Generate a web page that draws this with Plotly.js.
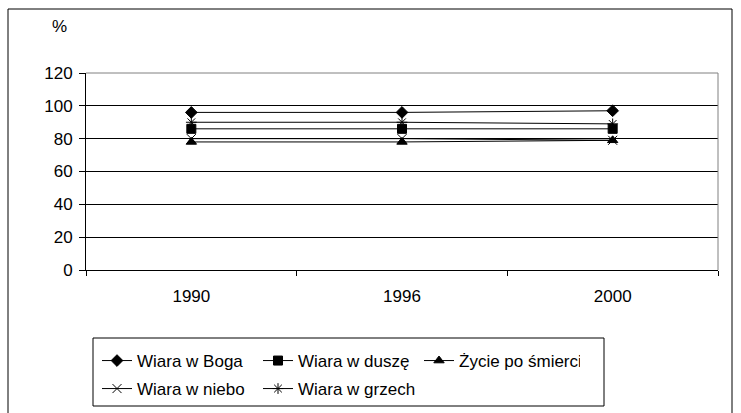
<!DOCTYPE html>
<html>
<head>
<meta charset="utf-8">
<script src="https://cdn.plot.ly/plotly-3.0.1.min.js"></script>
<style>html,body{margin:0;padding:0;background:#fff}#chart{width:741px;height:413px}</style>
</head>
<body>
<div id="chart"></div>
<script>
const years = ["1990", "1996", "2000"];
const seriesNames = ["Wiara w Boga", "Wiara w duszę", "Życie po śmierci", "Wiara w niebo", "Wiara w grzech"];
const boga = [96, 96, 97];
const dusza = [86, 86, 86];
const zycie = [78, 78, 79];
const niebo = [80, 80, 79];
const grzech = [90, 90, 89];
const yTicks = [0, 20, 40, 60, 80, 100, 120];

const values = [boga, dusza, zycie, niebo, grzech];
const symbols = ["diamond", "square", "triangle-up", "x-thin-open", "asterisk-open"];
const sizes = [9, 9, 9, 9, 9];
const legendOf = ["legend", "legend", "legend", "legend2", "legend2"];

const traces = values.map((v, i) => ({
  type: "scatter",
  mode: "lines+markers",
  name: seriesNames[i],
  legend: legendOf[i],
  x: years,
  y: v,
  line: {color: "#000", width: 1},
  marker: {symbol: symbols[i], size: sizes[i], color: "#000", line: {color: "#000", width: 1}}
}));

const W = 741, H = 413;
const L = 86, R = 718, T = 73, B = 270;
const pw = R - L, ph = B - T;
const px = x => (x - L) / pw;
const py = y => (B - y) / ph;
const FS = 17;

const legendBase = {
  orientation: "h", xanchor: "left", yanchor: "middle", xref: "container", yref: "container",
  borderwidth: 0, bgcolor: "rgba(0,0,0,0)",
  font: {size: FS}, entrywidth: 116, entrywidthmode: "pixels", traceorder: "normal"
};

const layout = {
  width: W, height: H,
  margin: {l: L, r: W - R, t: T, b: H - B, pad: 0, autoexpand: false},
  paper_bgcolor: "#fff", plot_bgcolor: "#fff",
  font: {family: "Liberation Sans, Arial, sans-serif", size: FS, color: "#000"},
  showlegend: true,
  xaxis: {
    type: "category", range: [-0.5, 2.5], tickson: "boundaries", ticks: "outside", ticklen: 5, tickcolor: "#000",
    showline: true, linecolor: "#000", linewidth: 1, showgrid: false, zeroline: false,
    tickfont: {size: FS}, ticklabelstandoff: 11
  },
  yaxis: {
    range: [0, 120], tickvals: yTicks, ticks: "outside", ticklen: 6, tickcolor: "#000",
    showline: true, linecolor: "#000", linewidth: 1, showgrid: true, gridcolor: "#000", gridwidth: 1,
    zeroline: false, tickfont: {size: FS}, ticklabelstandoff: 3, fixedrange: true
  },
  legend: Object.assign({}, legendBase, {x: 97 / W, y: 1 - 361 / H}),
  legend2: Object.assign({}, legendBase, {x: 97 / W, y: 1 - 389 / H}),
  shapes: [
    {type: "line", xref: "paper", yref: "paper", x0: 1, x1: 1, y0: 0, y1: 1, line: {color: "#808080", width: 1}, layer: "above"},
    {type: "line", xref: "paper", yref: "paper", x0: 0, x1: 1, y0: 1, y1: 1, line: {color: "#808080", width: 1}, layer: "above"},
    {type: "rect", xref: "paper", yref: "paper", x0: px(93), x1: px(604), y0: py(406), y1: py(338), line: {color: "#000", width: 1}},
    {type: "rect", xref: "paper", yref: "paper", x0: px(8), x1: px(732), y0: py(440), y1: py(9), line: {color: "#000", width: 1}}
  ],
  annotations: [
    {text: "%", xref: "paper", yref: "paper", x: px(59), y: py(27), xanchor: "center", yanchor: "middle", showarrow: false, font: {size: FS}}
  ]
};

Plotly.newPlot("chart", traces, layout, {displayModeBar: false, staticPlot: true});
</script>
</body>
</html>
